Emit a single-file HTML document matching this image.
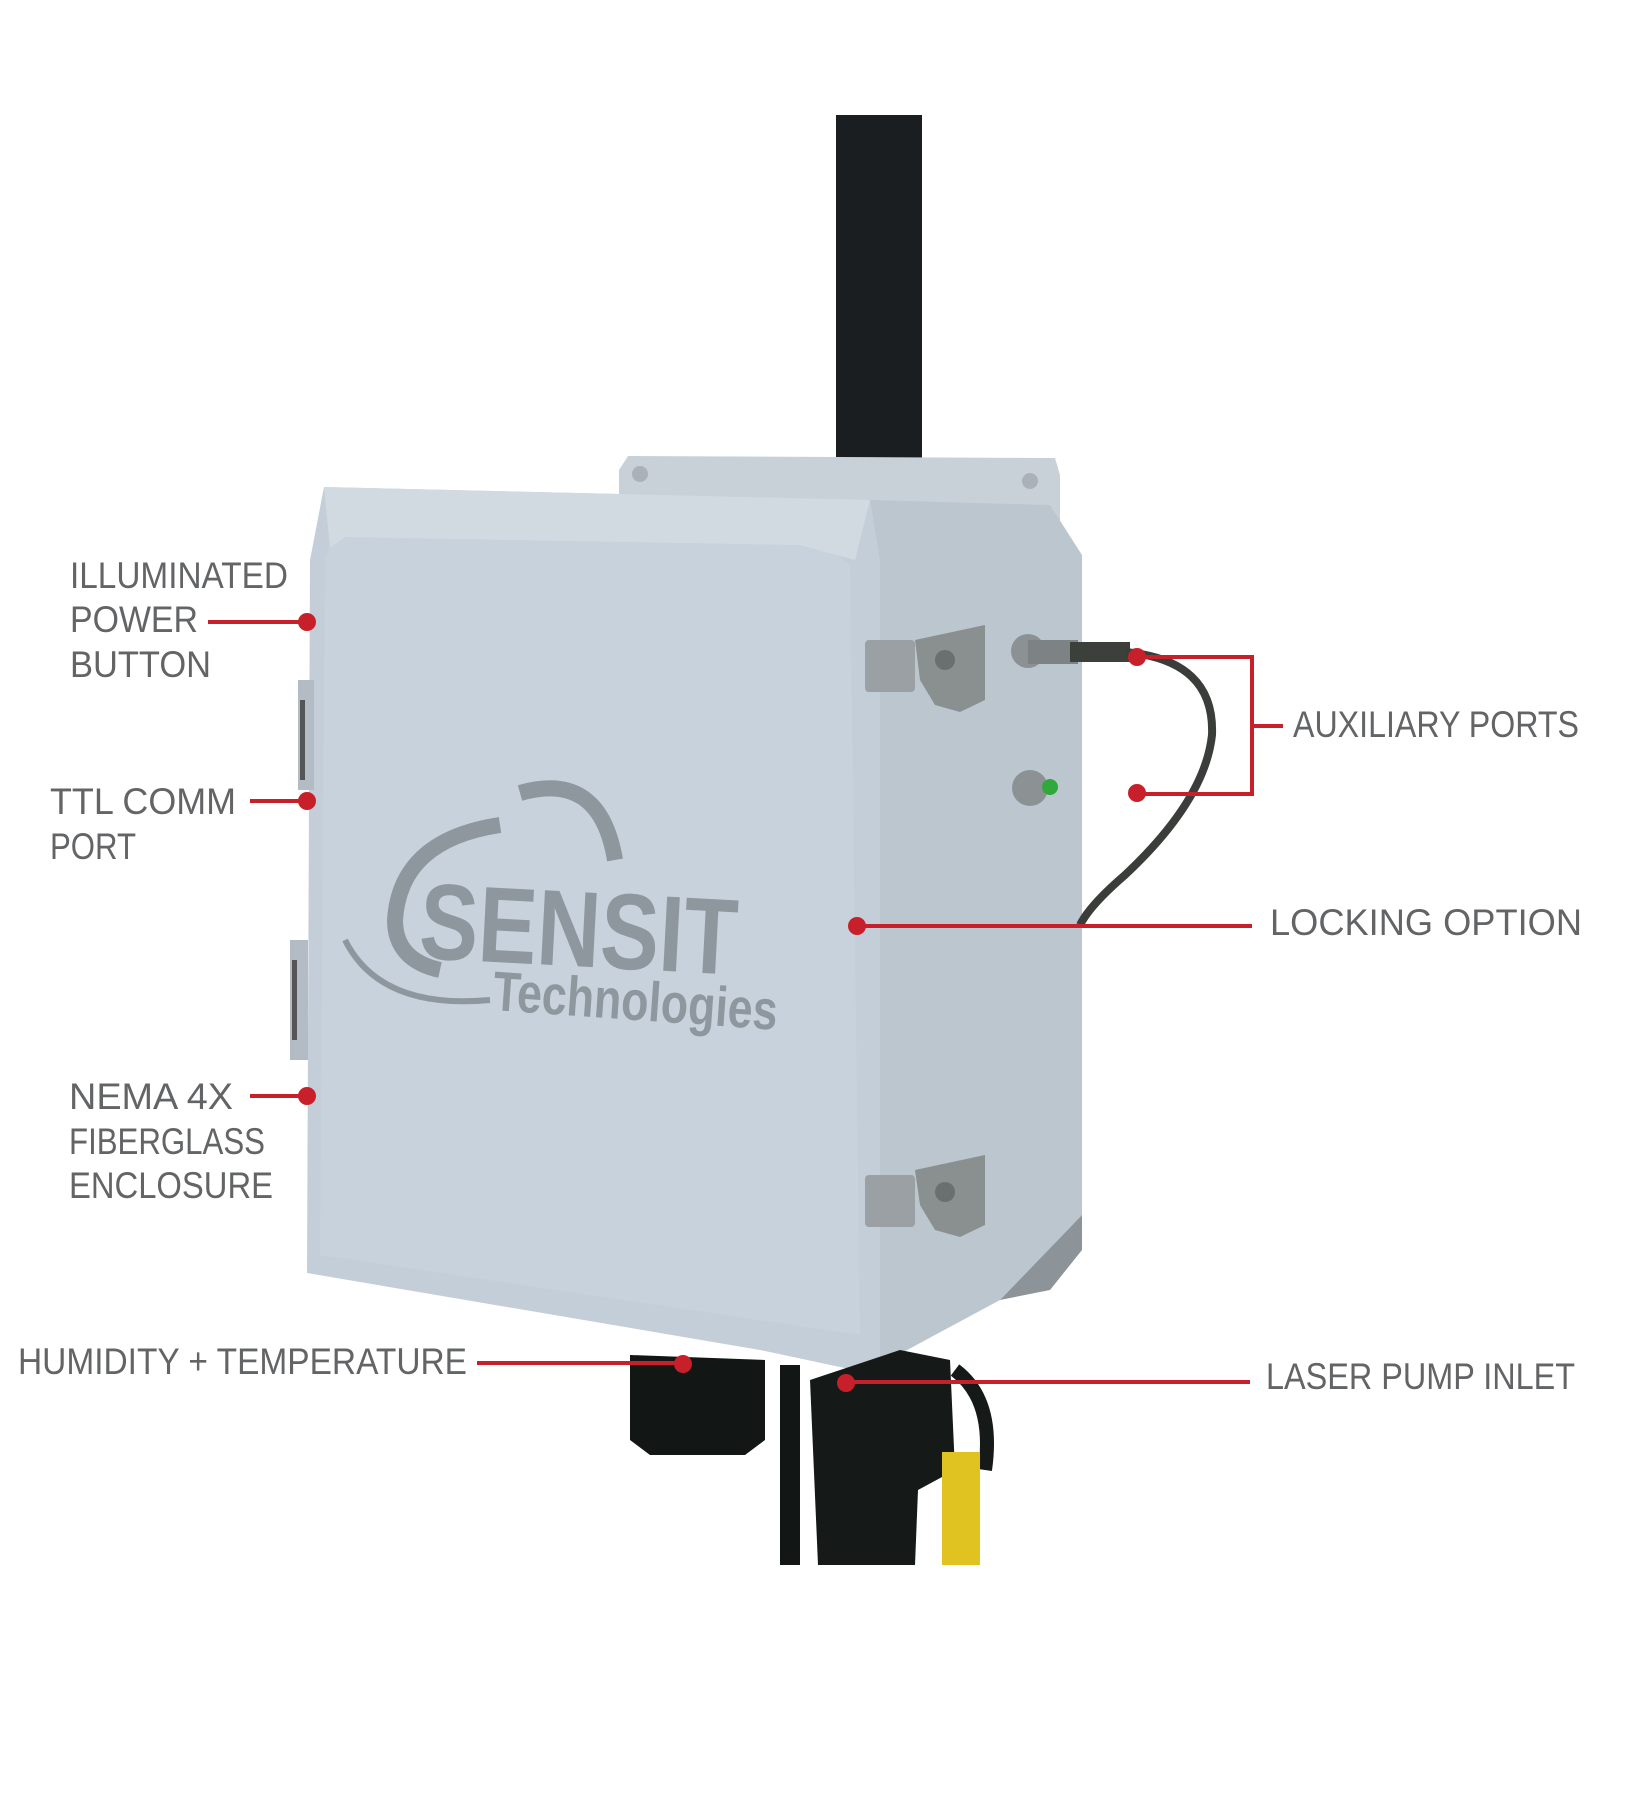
<!DOCTYPE html>
<html><head><meta charset="utf-8"><style>
html,body{margin:0;padding:0;background:#fff;}
svg{display:block;}
text{font-family:"Liberation Sans",sans-serif;fill:#636466;}
</style></head><body>
<svg width="1651" height="1801" viewBox="0 0 1651 1801" xmlns="http://www.w3.org/2000/svg">
<!-- pole -->
<rect x="836" y="115" width="86" height="360" fill="#1b1e20"/>
<!-- back plate -->
<polygon points="619,470 628,456 1055,458 1060,475 1060,560 619,560" fill="#c9d1d8"/>
<circle cx="640" cy="474" r="8" fill="#aab2b8"/>
<circle cx="1030" cy="481" r="8" fill="#aab2b8"/>
<!-- side face -->
<polygon points="870,500 1050,505 1082,555 1082,1215 1000,1300 870,1370" fill="#bcc6cf"/>
<!-- front face -->
<polygon points="324,487 870,500 880,560 880,1372 854,1370 760,1350 307,1273 310,560" fill="#c4ced8"/>
<polygon points="340,515 805,527 850,565 860,1335 320,1255 325,560" fill="#c8d2dc"/>
<polygon points="1000,1300 1082,1215 1082,1250 1050,1290" fill="#8c949a"/>
<!-- lid bevel top -->
<polygon points="324,487 870,500 855,560 800,545 345,537 330,548" fill="#d2dae1"/>
<!-- left hinges -->
<rect x="298" y="680" width="16" height="110" fill="#b3bcc4"/>
<rect x="300" y="700" width="5" height="80" fill="#555"/>
<rect x="290" y="940" width="18" height="120" fill="#b3bcc4"/>
<rect x="292" y="960" width="5" height="80" fill="#555"/>
<!-- logo -->
<path d="M520,793 Q600,770 615,860" fill="none" stroke="#8e979e" stroke-width="16"/>
<path d="M500,825 Q400,840 395,920 Q395,960 440,970" fill="none" stroke="#8e979e" stroke-width="16"/>
<path d="M345,940 Q380,1010 490,1000" fill="none" stroke="#8e979e" stroke-width="6"/>
<text x="418" y="958" font-size="108" font-weight="bold" transform="rotate(3 418 958)" style="fill:#8e979e" textLength="318" lengthAdjust="spacingAndGlyphs">SENSIT</text>
<text x="492" y="1010" font-size="56" font-weight="bold" transform="rotate(4 492 1010)" style="fill:#8e979e" textLength="285" lengthAdjust="spacingAndGlyphs">Technologies</text>
<!-- latches -->
<rect x="865" y="640" width="50" height="52" fill="#9aa0a3" rx="4"/>
<path d="M915,640 L985,625 L985,700 L960,712 L935,705 L920,680 Z" fill="#8a8f90"/>
<circle cx="945" cy="660" r="10" fill="#6a6f70"/>
<rect x="865" y="1175" width="50" height="52" fill="#9aa0a3" rx="4"/>
<path d="M915,1170 L985,1155 L985,1225 L960,1237 L935,1230 L920,1205 Z" fill="#8a8f90"/>
<circle cx="945" cy="1192" r="10" fill="#6a6f70"/>
<!-- ports -->
<circle cx="1028" cy="651" r="17" fill="#8c9194"/>
<rect x="1028" y="640" width="50" height="24" fill="#7d8284"/>
<rect x="1070" y="642" width="60" height="20" fill="#3b403a"/>
<circle cx="1030" cy="788" r="18" fill="#8c9194"/>
<circle cx="1050" cy="787" r="8" fill="#2fa83c"/>
<!-- cable -->
<path d="M1125,652 Q1215,660 1212,735 Q1205,800 1125,875 Q1090,905 1080,925" fill="none" stroke="#3a3d3a" stroke-width="8"/>
<!-- bottom parts -->
<path d="M630,1355 L765,1360 L765,1440 L745,1455 L650,1455 L630,1440 Z" fill="#121614"/>
<rect x="780" y="1365" width="20" height="200" fill="#121614"/>
<path d="M810,1380 L900,1350 L950,1360 L955,1470 L918,1490 L915,1565 L818,1565 Z" fill="#151918"/>
<path d="M955,1370 Q995,1400 985,1470" fill="none" stroke="#151918" stroke-width="14"/>
<rect x="942" y="1452" width="38" height="113" fill="#e0c320"/>
<!-- callouts -->
<g stroke="#c8202a" stroke-width="4" fill="none">
<line x1="208" y1="622" x2="307" y2="622"/>
<line x1="250" y1="801" x2="306" y2="801"/>
<line x1="250" y1="1096" x2="306" y2="1096"/>
<line x1="477" y1="1363" x2="683" y2="1363"/>
<line x1="846" y1="1382" x2="1250" y2="1382"/>
<line x1="857" y1="926" x2="1252" y2="926"/>
<polyline points="1137,657 1252,657 1252,794 1137,794"/>
<line x1="1252" y1="726" x2="1283" y2="726"/>
</g>
<g fill="#c8202a">
<circle cx="307" cy="622" r="9"/>
<circle cx="307" cy="801" r="9"/>
<circle cx="307" cy="1096" r="9"/>
<circle cx="683" cy="1364" r="9"/>
<circle cx="846" cy="1383" r="9"/>
<circle cx="857" cy="926" r="9"/>
<circle cx="1137" cy="657" r="9"/>
<circle cx="1137" cy="793" r="9"/>
</g>
<g font-size="37">
<text x="70" y="588" textLength="218" lengthAdjust="spacingAndGlyphs">ILLUMINATED</text>
<text x="70" y="632" textLength="128" lengthAdjust="spacingAndGlyphs">POWER</text>
<text x="70" y="677" textLength="141" lengthAdjust="spacingAndGlyphs">BUTTON</text>
<text x="50" y="814" textLength="186" lengthAdjust="spacingAndGlyphs">TTL COMM</text>
<text x="50" y="859" textLength="86" lengthAdjust="spacingAndGlyphs">PORT</text>
<text x="69" y="1109" textLength="164" lengthAdjust="spacingAndGlyphs">NEMA 4X</text>
<text x="69" y="1154" textLength="196" lengthAdjust="spacingAndGlyphs">FIBERGLASS</text>
<text x="69" y="1198" textLength="204" lengthAdjust="spacingAndGlyphs">ENCLOSURE</text>
<text x="18" y="1374" textLength="449" lengthAdjust="spacingAndGlyphs">HUMIDITY + TEMPERATURE</text>
<text x="1293" y="737" textLength="286" lengthAdjust="spacingAndGlyphs">AUXILIARY PORTS</text>
<text x="1270" y="935" textLength="312" lengthAdjust="spacingAndGlyphs">LOCKING OPTION</text>
<text x="1266" y="1389" textLength="309" lengthAdjust="spacingAndGlyphs">LASER PUMP INLET</text>
</g>
</svg>
</body></html>
